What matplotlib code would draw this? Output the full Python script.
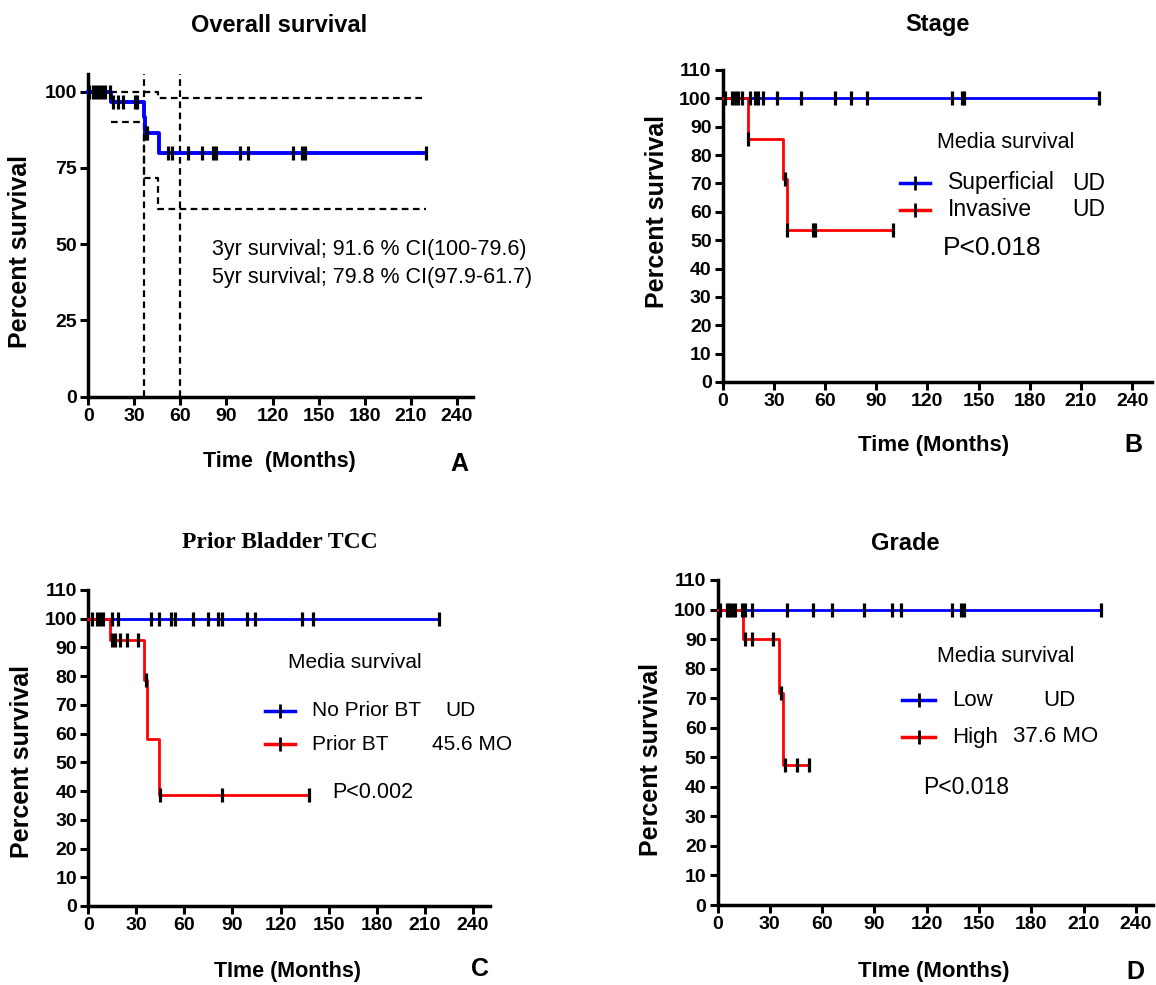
import matplotlib
matplotlib.use("Agg")
import matplotlib.pyplot as plt
from matplotlib.lines import Line2D

plt.rcParams['font.family'] = ['Liberation Sans', 'DejaVu Sans']

# ---- data ----
# A: overall survival
os_time = [0, 14.5, 36.3, 37.0, 46.0, 220]
os_surv = [100, 96.7, 91.6, 86.4, 79.8, 79.8]
os_cens_t = [0.5, 3, 5, 7, 9, 11, 14, 16.1, 19.3, 22.6, 30.4, 31.7, 37.5, 38.5,
             52.1, 54.3, 65.1, 73.9, 81.4, 83.2, 98.8, 104.2, 133.6, 139, 141.2, 219.8]
os_cens_s = [100, 100, 100, 100, 100, 100, 100, 96.7, 96.7, 96.7, 96.7, 96.7, 86.4, 86.4,
             79.8, 79.8, 79.8, 79.8, 79.8, 79.8, 79.8, 79.8, 79.8, 79.8, 79.8, 79.8]
ci_up_t = [0, 45.5, 220]
ci_up_s = [100, 97.9, 97.9]
ci_lo_t = [14.5, 36.3, 45.5, 220]
ci_lo_s = [90.2, 71.6, 61.7, 61.7]
ref_months = [36, 60]

# B: stage
sup_time = [0, 220.4]
sup_surv = [100, 100]
sup_cens = [1.3, 5.3, 7.2, 9.2, 11.1, 16, 19, 20.9, 23.8, 32, 45.8, 65.9, 75.3, 84.5,
            134.4, 140.3, 141.6, 220.4]
inv_time = [0, 15, 35.6, 37.9, 100.1]
inv_surv = [100, 85.7, 71.4, 53.6, 53.6]
inv_cens_t = [15, 36.6, 37.9, 53.2, 54.2, 100.1]
inv_cens_s = [85.7, 71.4, 53.6, 53.6, 53.6, 53.6]

# C: prior bladder TCC
nopr_time = [0, 219]
nopr_surv = [100, 100]
nopr_cens = [2.1, 5.2, 7.3, 9.4, 14.6, 18.7, 39, 44.3, 51.4, 54.1, 65.6, 74.5, 81.2, 83.7,
             98.9, 104.1, 133.6, 140.5, 219]
pr_time = [0, 13.5, 34.8, 36.5, 44.3, 138]
pr_surv = [100, 92.7, 78.6, 58.3, 38.6, 38.6]
pr_cens_t = [14.6, 16.7, 19.8, 24, 31.2, 35.8, 44.8, 83.7, 138]
pr_cens_s = [92.7, 92.7, 92.7, 92.7, 92.7, 78.6, 38.6, 38.6, 38.6]

# D: grade
low_time = [0, 220.2]
low_surv = [100, 100]
low_cens = [1.4, 5.3, 6.8, 8.2, 10.1, 13.9, 15.8, 19.7, 39.8, 54.7, 65.6, 84.2, 100.1,
            105.3, 134.6, 139.4, 141.3, 220.2]
high_time = [0, 14.5, 35.5, 37.8, 52.6]
high_surv = [100, 90, 71.8, 47.3, 47.3]
high_cens_t = [15.8, 19.7, 31.7, 36.3, 38.8, 45.5, 52.6]
high_cens_s = [90, 90, 90, 71.8, 47.3, 47.3, 47.3]

W, H = 1156, 985
fig = plt.figure(figsize=(W / 100, H / 100), dpi=100)


def fx(x):
    return x / W


def fy(y):
    return 1 - y / H


def make_ax(l, r, t, b):
    return fig.add_axes([fx(l), fy(b), fx(r) - fx(l), fy(t) - fy(b)])


def style(ax, xmax, ymax, yticks):
    ax.set_xlim(0, xmax)
    ax.set_ylim(0, ymax)
    ax.spines['top'].set_visible(False)
    ax.spines['right'].set_visible(False)
    ax.spines['left'].set_linewidth(2.5)
    ax.spines['bottom'].set_linewidth(2.5)
    ax.set_xticks(range(0, 241, 30))
    ax.set_yticks(yticks)
    ax.tick_params(direction='out', length=6, width=2.2, labelsize=14, pad=2)
    for lb in ax.get_xticklabels() + ax.get_yticklabels():
        lb.set_fontweight('bold')


def km(ax, t, s, ct, cs, color, lw=2.0):
    ax.step(t, s, where='post', color=color, lw=lw, clip_on=False, zorder=3)
    ax.plot(ct, cs, ls='none', marker='|', color='black', ms=10, mew=2.3,
            clip_on=False, zorder=4)


def key(x0, x1, y, color):
    fig.add_artist(Line2D([fx(x0), fx(x1)], [fy(y), fy(y)], color=color, lw=2.5,
                          transform=fig.transFigure))
    fig.add_artist(Line2D([fx((x0 + x1) / 2)], [fy(y)], color='black', marker='|',
                          ms=10, mew=2, transform=fig.transFigure))


def txt(x, y, s, size=15.5, **kw):
    fig.text(fx(x), fy(y), s, fontsize=size, va='center', ha=kw.pop('ha', 'left'), **kw)


# ---- A ----
axA = make_ax(88.3, 473, 74, 396.7)
style(axA, 250.6, 105.8, [0, 25, 50, 75, 100])
for m in ref_months:
    axA.axvline(m, color='black', lw=1.6, ls=(0, (3, 2)), zorder=2)
axA.step(ci_up_t, ci_up_s, where='post', color='black', lw=1.6, ls=(0, (3, 2)))
axA.step(ci_lo_t, ci_lo_s, where='post', color='black', lw=1.6, ls=(0, (3, 2)))
km(axA, os_time, os_surv, os_cens_t, os_cens_s, '#0000ff', lw=2.8)
txt(212, 250, '3yr survival; 91.6 % CI(100-79.6)')
txt(212, 278, '5yr survival; 79.8 % CI(97.9-61.7)')
txt(279, 26, 'Overall survival', size=17, weight='bold', ha='center')
txt(279, 461, 'Time  (Months)', size=15.5, weight='bold', ha='center')
txt(459, 464, 'A', size=18, weight='bold', ha='center')
txt(20, 252, 'Percent survival', size=18, weight='bold', ha='center', rotation=90)

# ---- B ----
axB = make_ax(722.7, 1151.7, 70, 382)
style(axB, 251.5, 110, range(0, 111, 10))
km(axB, sup_time, sup_surv, sup_cens, [100] * len(sup_cens), '#0000ff')
km(axB, inv_time, inv_surv, inv_cens_t, inv_cens_s, '#ff0000')
txt(937, 143, 'Media survival', size=15.5)
key(900, 930, 183, '#0000ff')
key(900, 930, 210, '#ff0000')
txt(948, 183, 'Superficial', size=16.5)
txt(948, 210, 'Invasive', size=16.5)
txt(1072, 183, 'UD', size=16.5)
txt(1072, 210, 'UD', size=16.5)
txt(943, 248, 'P<0.018', size=19)
txt(937, 25, 'Stage', size=17, weight='bold', ha='center')
txt(934, 445, 'Time (Months)', size=16, weight='bold', ha='center')
txt(1133, 445, 'B', size=18, weight='bold', ha='center')
txt(657, 212, 'Percent survival', size=18, weight='bold', ha='center', rotation=90)

# ---- C ----
axC = make_ax(88.3, 490, 590, 906)
style(axC, 250.8, 110, range(0, 111, 10))
km(axC, nopr_time, nopr_surv, nopr_cens, [100] * len(nopr_cens), '#0000ff')
km(axC, pr_time, pr_surv, pr_cens_t, pr_cens_s, '#ff0000')
txt(288, 663, 'Media survival', size=15)
key(265, 295, 711, '#0000ff')
key(265, 295, 744, '#ff0000')
txt(312, 711, 'No Prior BT', size=15)
txt(312, 744, 'Prior BT', size=15)
txt(445, 711, 'UD', size=15)
txt(432, 744, '45.6 MO', size=15)
txt(332, 792, 'P<0.002', size=15.5)
txt(280, 543, 'Prior Bladder TCC', size=17, weight='bold', ha='center',
    family=['Liberation Serif', 'DejaVu Serif'])
txt(287, 972, 'TIme (Months)', size=15.5, weight='bold', ha='center')
txt(480, 969, 'C', size=18, weight='bold', ha='center')
txt(22, 762, 'Percent survival', size=18, weight='bold', ha='center', rotation=90)

# ---- D ----
axD = make_ax(717.5, 1153, 580, 905)
style(axD, 249.8, 110, range(0, 111, 10))
km(axD, low_time, low_surv, low_cens, [100] * len(low_cens), '#0000ff')
km(axD, high_time, high_surv, high_cens_t, high_cens_s, '#ff0000')
txt(937, 656, 'Media survival', size=15.5)
key(902, 935, 700, '#0000ff')
key(902, 935, 737, '#ff0000')
txt(952, 700, 'Low', size=16)
txt(952, 737, 'High', size=16)
txt(1043, 700, 'UD', size=16)
txt(1013, 737, '37.6 MO', size=16)
txt(923, 787, 'P<0.018', size=16.5)
txt(905, 543, 'Grade', size=17, weight='bold', ha='center')
txt(934, 972, 'TIme (Months)', size=16, weight='bold', ha='center')
txt(1135, 972, 'D', size=18, weight='bold', ha='center')
txt(651, 760, 'Percent survival', size=18, weight='bold', ha='center', rotation=90)

fig.savefig('out.png', dpi=100)
